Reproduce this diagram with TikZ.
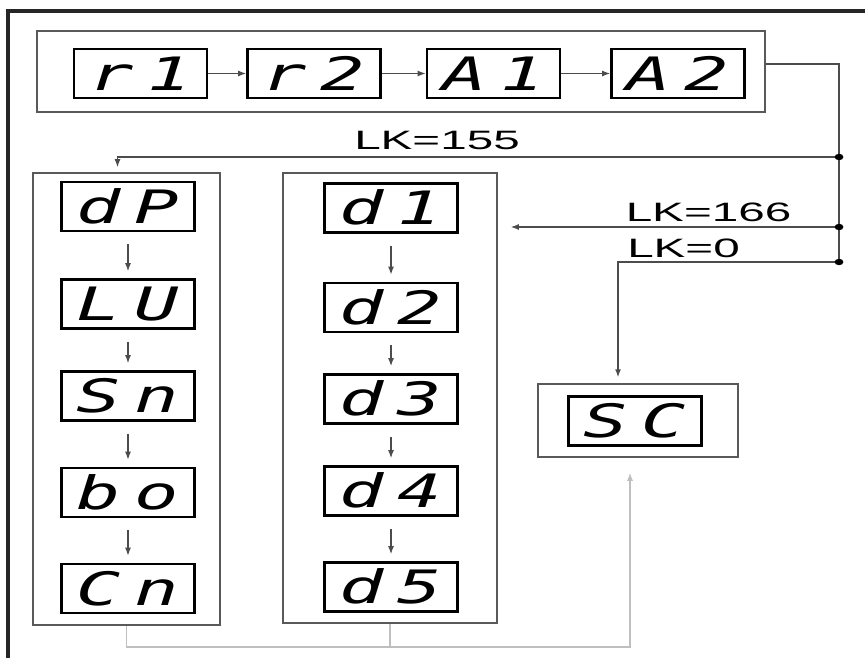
\documentclass[tikz,border=0pt]{standalone}
\usepackage{fontspec}
\usepackage{tikz}
\usetikzlibrary{arrows.meta, positioning}

\newfontfamily\segfont[FakeStretch=1.6, UprightFont=*, BoldFont=* Bold,
  ItalicFont=* Oblique, BoldItalicFont=* Bold Oblique]{DejaVu Sans Mono}
\newfontfamily\lkfont[FakeStretch=1.79]{Liberation Sans}
\newcommand{\seg}[2]{\makebox[29pt]{#1}\makebox[29pt]{#2}}

\tikzset{
  disp/.style={draw=black, line width=1.3pt, minimum width=66.5pt, minimum height=24.5pt,
    inner sep=0pt, text height=16.8pt, text depth=0pt,
    font=\segfont\itshape\fontsize{23}{23}\selectfont},
  grp/.style={draw=black!65, line width=0.75pt, inner sep=0pt},
  bus/.style={draw=black!70, line width=0.7pt},
  back/.style={draw=black!25, line width=0.6pt},
  tip/.style={-{Latex[length=4pt,width=3pt]}},
  lk/.style={font=\lkfont\fontsize{13.3}{14}\selectfont, anchor=base, inner sep=0pt},
}

\begin{document}
\begin{tikzpicture}[x=0.5pt, y=-0.5pt]
  \useasboundingbox (0,0) rectangle (865,657);
  \clip (0,0) rectangle (865,657);
  % outer frame
  \draw[line width=1.7pt, draw=black!85] (8,11) rectangle (890,680);

  % group boxes
  \node[grp, minimum width=364pt, minimum height=40.5pt] (top) at (401,71.5) {};
  \node[grp, minimum width=93.5pt, minimum height=226pt] (left) at (126.5,399) {};
  \node[grp, minimum width=107pt, minimum height=225pt] (mid) at (390,398) {};
  \node[grp, minimum width=100pt, minimum height=36.5pt] (sc) at (638,420.5) {};

  % top row
  \node[disp] (r1) at (140.5,73.5) {\seg{r}{1}};
  \node[disp] (r2) at (314,73.5) {\seg{r}{2}};
  \node[disp] (A1) at (493.5,73.5) {\seg{A}{1}};
  \node[disp] (A2) at (678,73.5) {\seg{A}{2}};
  \draw[bus, tip] (r1) -- (r2);
  \draw[bus, tip] (r2) -- (A1);
  \draw[bus, tip] (A1) -- (A2);

  % left column
  \node[disp] (dP) at (128,206.5) {\seg{d}{P}};
  \node[disp] (LU) at (128,304) {\seg{L}{U}};
  \node[disp] (Sn) at (128,396) {\seg{S}{n}};
  \node[disp] (bo) at (128,492.5) {\seg{b}{o}};
  \node[disp] (Cn) at (128,588.5) {\seg{C}{n}};
  \draw[bus, tip, shorten <=6pt, shorten >=3.5pt] (dP) -- (LU);
  \draw[bus, tip, shorten <=6pt, shorten >=3.5pt] (LU) -- (Sn);
  \draw[bus, tip, shorten <=6pt, shorten >=3.5pt] (Sn) -- (bo);
  \draw[bus, tip, shorten <=6pt, shorten >=3.5pt] (bo) -- (Cn);

  % middle column
  \node[disp] (d1) at (391,208) {\seg{d}{1}};
  \node[disp] (d2) at (391,307.5) {\seg{d}{2}};
  \node[disp] (d3) at (391,399) {\seg{d}{3}};
  \node[disp] (d4) at (391,491) {\seg{d}{4}};
  \node[disp] (d5) at (391,587) {\seg{d}{5}};
  \draw[bus, tip, shorten <=6pt, shorten >=3.5pt] (d1) -- (d2);
  \draw[bus, tip, shorten <=6pt, shorten >=3.5pt] (d2) -- (d3);
  \draw[bus, tip, shorten <=6pt, shorten >=3.5pt] (d3) -- (d4);
  \draw[bus, tip, shorten <=6pt, shorten >=3.5pt] (d4) -- (d5);

  % SC
  \node[disp] (SC) at (635,421) {\seg{S}{C}};

  % bus on the right
  \coordinate (j155) at (839,157);
  \coordinate (j166) at (839,227);
  \coordinate (j0) at (839,262);
  \coordinate (bl) at (0,647);
  \draw[bus] ([yshift=3.75pt]top.east) -| (j0);
  \draw[bus, tip, shorten >=2.5pt] (j155) -| ([xshift=-4.5pt]left.north);
  \draw[bus, tip, shorten >=6.5pt] (j166) -- (j166 -| mid.east);
  \draw[bus, tip, shorten >=3pt] (j0) -| ([xshift=-10pt]sc.north);
  \fill (j155) ellipse [x radius=2.2pt, y radius=1.6pt];
  \fill (j166) ellipse [x radius=2.2pt, y radius=1.6pt];
  \fill (j0) ellipse [x radius=2.2pt, y radius=1.6pt];
  \node[lk] (l155) at (437,150) {LK=155};
  \node[lk] (l166) at (708.5,222) {LK=166};
  \node[lk] (l0) at (683.5,257) {LK=0};

  % back to SC
  \draw[back, tip, shorten >=7.5pt] (left.south) -- (left.south |- bl) -| ([xshift=-4pt]sc.south);
  \draw[back] (mid.south) -- (mid.south |- bl);
\end{tikzpicture}
\end{document}
